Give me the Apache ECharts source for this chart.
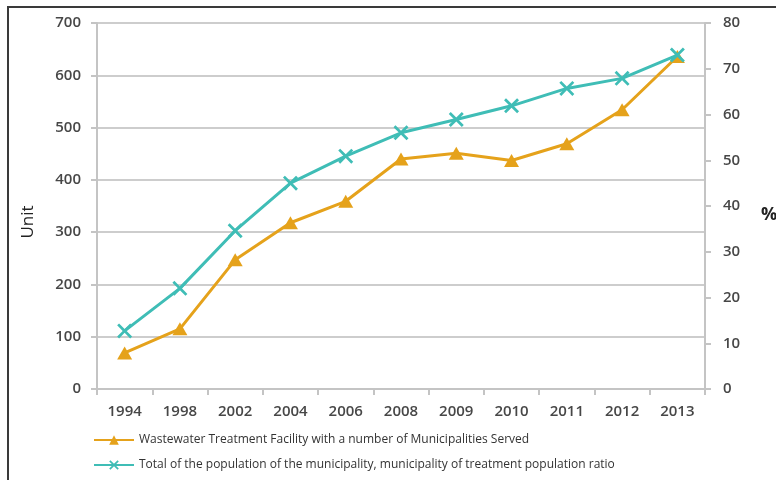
<!DOCTYPE html>
<html>
<head>
<meta charset="utf-8">
<script src="https://cdn.jsdelivr.net/npm/echarts@6/dist/echarts.min.js"></script>
<style>
  html, body { margin: 0; padding: 0; background: #fff; }
  #chart { width: 776px; height: 480px; }
</style>
</head>
<body>
<div id="chart"></div>
<script>
// Survey years on the category axis
const years = ['1994', '1998', '2002', '2004', '2006', '2008', '2009', '2010', '2011', '2012', '2013'];

// Number of municipalities served by wastewater treatment facilities (left axis, units)
const facilityCount = [69, 115, 247, 318, 359, 440, 451, 437, 469, 534, 636];

// Treatment population ratio of the municipality (right axis, %)
const populationRatio = [12.7, 22.0, 34.6, 45.0, 50.9, 56.0, 58.9, 61.9, 65.7, 67.9, 73.0];

const unitTicks = { min: 0, max: 700, interval: 100 };
const ratioTicks = { min: 0, max: 80, interval: 10 };

const seriesNames = [
  'Wastewater Treatment Facility with a number of Municipalities Served',
  'Total of the population of the municipality, municipality of treatment population ratio'
];

const ORANGE = '#e5a21b';
const TEAL = '#3fbdb6';
const AXIS_GRAY = '#c4c4c4';
const LABEL = '#474747';
const FONT = '"Open Sans", "Noto Sans", sans-serif';

// Cross-shaped marker drawn as a filled outline
const crossPath = 'path://M0,1.3 L1.3,0 L5,3.7 L8.7,0 L10,1.3 L6.3,5 L10,8.7 L8.7,10 L5,6.3 L1.3,10 L0,8.7 L3.7,5 Z';

const tickLabel = { color: LABEL, fontSize: 15, fontWeight: 600, fontFamily: FONT };

const chart = echarts.init(document.getElementById('chart'), null, { renderer: 'canvas' });

chart.setOption({
  animation: false,
  textStyle: { fontFamily: FONT },
  grid: { left: 97, right: 71, top: 23, bottom: 91, containLabel: false },
  legend: {
    orient: 'vertical',
    left: 88,
    top: 429,
    itemWidth: 40,
    itemHeight: 12,
    itemGap: 13,
    textStyle: { fontFamily: FONT, fontSize: 12, color: '#333' },
    data: seriesNames
  },
  xAxis: {
    type: 'category',
    data: years,
    boundaryGap: true,
    axisLine: { lineStyle: { color: AXIS_GRAY, width: 2 } },
    axisTick: { show: true, length: 6, lineStyle: { color: AXIS_GRAY, width: 2 } },
    axisLabel: Object.assign({ margin: 15 }, tickLabel)
  },
  yAxis: [
    {
      type: 'value',
      min: unitTicks.min, max: unitTicks.max, interval: unitTicks.interval,
      axisLine: { show: true, lineStyle: { color: AXIS_GRAY, width: 2 } },
      axisTick: { show: true, length: 6, lineStyle: { color: AXIS_GRAY, width: 2 } },
      axisLabel: Object.assign({ margin: 16 }, tickLabel),
      splitLine: { show: true, lineStyle: { color: '#cdcdcd', width: 2 } }
    },
    {
      type: 'value',
      position: 'right',
      min: ratioTicks.min, max: ratioTicks.max, interval: ratioTicks.interval,
      axisLine: { show: true, lineStyle: { color: AXIS_GRAY, width: 2 } },
      axisTick: { show: true, length: 6, lineStyle: { color: AXIS_GRAY, width: 2 } },
      axisLabel: Object.assign({ margin: 18 }, tickLabel),
      splitLine: { show: false }
    }
  ],
  series: [
    {
      name: seriesNames[0],
      type: 'line',
      yAxisIndex: 0,
      data: facilityCount,
      symbol: 'triangle',
      symbolSize: [15, 13],
      lineStyle: { color: ORANGE, width: 3 },
      itemStyle: { color: ORANGE },
      z: 2
    },
    {
      name: seriesNames[1],
      type: 'line',
      yAxisIndex: 1,
      data: populationRatio,
      symbol: crossPath,
      symbolSize: 15,
      lineStyle: { color: TEAL, width: 3 },
      itemStyle: { color: TEAL },
      z: 3
    }
  ],
  graphic: [
    {
      type: 'rect',
      shape: { x: 8, y: 7, width: 800, height: 520 },
      style: { fill: 'none', stroke: '#3a3a3a', lineWidth: 2 },
      silent: true
    },
    {
      // Left axis title, rotated
      type: 'text',
      x: 28,
      y: 222,
      rotation: Math.PI / 2,
      style: {
        text: 'Unit', fontSize: 17, fill: '#222', fontFamily: FONT,
        align: 'center', verticalAlign: 'middle'
      }
    },
    {
      // Right axis title
      type: 'text',
      x: 761,
      y: 215,
      style: {
        text: '%', fontSize: 18, fontWeight: 'bold', fill: '#222', fontFamily: FONT,
        align: 'left', verticalAlign: 'middle'
      }
    }
  ]
});
</script>
</body>
</html>
